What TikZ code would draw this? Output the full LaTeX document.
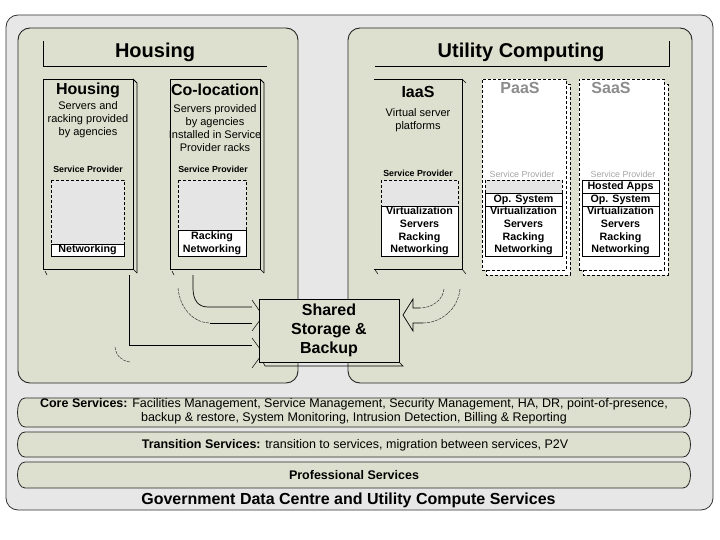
\documentclass[tikz,border=0pt]{standalone}
\usepackage{fontspec}
\setmainfont{Liberation Sans}
\usetikzlibrary{calc}
\definecolor{outerfill}{RGB}{231,231,231}
\definecolor{panelfill}{RGB}{221,224,206}
\definecolor{innergray}{RGB}{229,229,229}
\definecolor{dimtext}{RGB}{140,140,140}
\definecolor{lighttext}{RGB}{165,165,165}
\tikzset{
  outerbox/.style={draw=black!80, fill=outerfill, rounded corners=12pt, line width=0.8pt},
  panel/.style={draw=black!85, fill=panelfill, rounded corners=12pt, line width=0.9pt},
  bigtitle/.style={font=\fontsize{20}{24}\selectfont\bfseries, inner sep=0pt},
  subtitle/.style={font=\fontsize{16}{19}\selectfont\bfseries, inner sep=0pt},
  desc/.style={font=\fontsize{11}{13}\selectfont, align=center, inner sep=0pt},
  sptext/.style={font=\fontsize{8.8}{10}\selectfont\bfseries, inner sep=0pt},
  layertext/.style={font=\fontsize{10.7}{12.7}\selectfont\bfseries, align=center, inner sep=0pt},
  dashbox/.style={draw=black, dash pattern=on 3pt off 2pt, line width=0.6pt},
  solidbox/.style={draw=black, fill=white, line width=0.6pt},
  boxline/.style={draw=black, line width=0.8pt},
  arcline/.style={draw=black!80, line width=0.5pt, dash pattern=on 3pt off 1pt},
  bandtext/.style={font=\fontsize{12.5}{14}\selectfont, align=center, inner sep=0pt},
  band/.style={draw=black!85, fill=panelfill, line width=0.8pt}
}
\begin{document}
\begin{tikzpicture}[x=1pt,y=-1pt]
\useasboundingbox (0,0) rectangle (720,540);
\fill[white] (0,0) rectangle (720,540);

% outer frame and panels
\draw[outerbox] (6,15) rectangle (713,510);
\draw[panel] (18,28) rectangle (298,383);
\draw[panel] (348,28) rectangle (692,383);

% panel titles
\draw[line width=0.7pt] (43,41) -- (43,66) -- (267,66);
\draw[line width=0.7pt] (375,66) -- (669,66) -- (669,41);
\node[bigtitle] (tHousing) at (155,52) {Housing};
\node[bigtitle] (tUtility) at (521,52) {Utility Computing};

% ---------- Housing box ----------
\node[inner sep=0pt, outer sep=0pt, minimum width=90pt, minimum height=190pt, boxline] (hbox) at (88,174) {};
\draw[boxline] (hbox.north east) -- ++(4,4) -- ($(hbox.south east)+(4,4)$);
\draw[line width=0.6pt] (hbox.south east) -- ++(4,4);
\draw[line width=0.5pt] ($(hbox.south west)+(2,2)$) -- ++(2,4);
\node[subtitle] (hTitle) at (88,90) {Housing};
\node[desc] (hDesc) at (88,120) {Servers and\\racking provided\\by agencies};
\node[sptext] (hSP) at (88,169) {Service Provider};
\draw[dashbox, fill=innergray] (51,180) rectangle (124,256);
\node[solidbox, minimum width=73pt, minimum height=12pt, inner sep=0pt] (hNet) at (87.5,250) {};
\node[layertext] at (hNet.center) {Networking};

% ---------- Co-location box ----------
\node[inner sep=0pt, outer sep=0pt, minimum width=90pt, minimum height=190pt, boxline] (cbox) at (215,174) {};
\draw[boxline] (cbox.north east) -- ++(4,4) -- ($(cbox.south east)+(4,4)$);
\draw[line width=0.6pt] (cbox.south east) -- ++(4,4);
\draw[line width=0.5pt] ($(cbox.south west)+(2,2)$) -- ++(2,4);
\node[subtitle] (cTitle) at (215,90) {Co-location};
\node[desc] (cDesc) at (215,128.5) {Servers provided\\by agencies\\Installed in Service\\Provider racks};
\node[sptext] (cSP) at (213,169) {Service Provider};
\draw[dashbox, fill=innergray] (178,180) rectangle (246,256);
\node[solidbox, minimum width=68pt, minimum height=26pt, inner sep=0pt] (cNet) at (212,243) {};
\node[layertext] at (cNet.center) {Racking\\Networking};

% ---------- IaaS box (no left edge) ----------
\coordinate (iNW) at (374,79);
\coordinate (iNE) at (462,79);
\coordinate (iSE) at (462,269);
\coordinate (iSW) at (374,269);
\draw[boxline] (iNW) -- (iNE) -- (iSE) -- (iSW);
\draw[line width=0.5pt] (iNE) -- ++(4,4);
\draw[line width=0.5pt] (iSE) -- ++(4,5);
\draw[line width=0.5pt] ($(iSW)+(1,1)$) -- ++(3,4);
\node[subtitle] (iTitle) at (418,92) {IaaS};
\node[desc] (iDesc) at (418,120.5) {Virtual server\\platforms};
\node[sptext] (iSP) at (418,173) {Service Provider};
\draw[dashbox, fill=innergray] (381,180) rectangle (458,206);
\node[solidbox, minimum width=77pt, minimum height=50pt, inner sep=0pt] (iStack) at (419.5,231) {};
\node[layertext] at (iStack.center) {Virtualization\\Servers\\Racking\\Networking};

% ---------- PaaS box ----------
\draw[dashbox, fill=white] (486,84) rectangle (570,275);
\node[dashbox, fill=white, inner sep=0pt, outer sep=0pt, minimum width=84pt, minimum height=191pt] (pbox) at (524,174.5) {};
\node[subtitle, text=dimtext] (pTitle) at (520,88) {PaaS};
\node[sptext, text=lighttext, font=\fontsize{8.8}{10}\selectfont] (pSP) at (522,174) {Service Provider};
\draw[dashbox, fill=innergray] (485,180) rectangle (562,193);
\node[solidbox, minimum width=77pt, minimum height=13pt, inner sep=0pt] (pOS) at (523.5,199.5) {};
\node[layertext] at (pOS.center) {Op. System};
\node[solidbox, minimum width=77pt, minimum height=50pt, inner sep=0pt] (pStack) at (523.5,231) {};
\node[layertext] at (pStack.center) {Virtualization\\Servers\\Racking\\Networking};

% ---------- SaaS box ----------
\draw[dashbox, fill=white] (583,84) rectangle (668,275);
\node[dashbox, fill=white, inner sep=0pt, outer sep=0pt, minimum width=85pt, minimum height=191pt] (sbox) at (621.5,174.5) {};
\node[subtitle, text=dimtext] (sTitle) at (611,88) {SaaS};
\node[sptext, text=lighttext, font=\fontsize{8.8}{10}\selectfont] (sSP) at (623,174) {Service Provider};
\node[solidbox, minimum width=77pt, minimum height=13pt, inner sep=0pt] (sApps) at (620.5,186.5) {};
\node[layertext] at (sApps.center) {Hosted Apps};
\node[solidbox, minimum width=77pt, minimum height=13pt, inner sep=0pt] (sOS) at (620.5,199.5) {};
\node[layertext] at (sOS.center) {Op. System};
\node[solidbox, minimum width=77pt, minimum height=50pt, inner sep=0pt] (sStack) at (620.5,231) {};
\node[layertext] at (sStack.center) {Virtualization\\Servers\\Racking\\Networking};

% ---------- block arrows into shared storage ----------
% from Housing
\coordinate (aH1) at (129,275);
\coordinate (aH2) at (129,345);
\coordinate (aH3) at (252,345);
\draw[line width=0.7pt] (aH1) -- (aH2) -- (aH3);
\draw[arcline] (115,347) .. controls (116,356) and (122,361) .. (130,362);
\draw[line width=0.5pt] (252,338) -- (263,353) -- (252,368);
% from Co-location
\coordinate (aC1) at (193,275);
\coordinate (aC2) at (252,307);
\draw[line width=0.7pt] (aC1) -- (193,288) .. controls (193,300) and (198,307) .. (208,307) -- (aC2);
\draw[arcline] (178,288) .. controls (180,310) and (195,323) .. (210,323);
\draw[line width=0.7pt] (210,323) -- (252,323);
\draw[line width=0.5pt] (252,300) -- (263,316) -- (252,331);
% from IaaS
\coordinate (aI1) at (444,289);
\coordinate (aI2) at (460,289);
\draw[arcline] (aI1) .. controls (443,300) and (432,308) .. (420,308);
\draw[arcline] (aI2) .. controls (458,310) and (440,323) .. (423,323);
\draw[line width=0.7pt] (420,308) -- (413,308) -- (413,299) -- (403,315) -- (413,331) -- (413,323) -- (423,323);

% ---------- Shared storage ----------
\draw[line width=0.6pt] (263,362) -- (265,366) -- (403,366) -- (399,362);
\node[boxline, fill=panelfill, inner sep=0pt, outer sep=0pt, minimum width=140pt, minimum height=63pt] (shared) at (329,330.5) {};
\node[font=\fontsize{16}{19}\selectfont\bfseries, align=center, inner sep=0pt] (sharedText) at (shared.center) {Shared\\Storage \&\\Backup};

% ---------- service bands ----------
\draw[band] (25,398) -- (683,398) .. controls (693,398) and (693,427) .. (683,427) -- (25,427) .. controls (15,427) and (15,398) .. (25,398) -- cycle;
\draw[band] (25,432) -- (683,432) .. controls (693,432) and (693,457) .. (683,457) -- (25,457) .. controls (15,457) and (15,432) .. (25,432) -- cycle;
\draw[band] (25,462) -- (683,462) .. controls (693,462) and (693,488) .. (683,488) -- (25,488) .. controls (15,488) and (15,462) .. (25,462) -- cycle;
\node[bandtext] (core) at (354,411.5) {\textbf{Core Services:} Facilities Management, Service Management, Security Management, HA, DR, point-of-presence,\\backup \& restore, System Monitoring, Intrusion Detection, Billing \& Reporting};
\node[bandtext] (transition) at (355,445) {\textbf{Transition Services:} transition to services, migration between services, P2V};
\node[bandtext, font=\fontsize{12.5}{14}\selectfont\bfseries] (professional) at (354,475) {Professional Services};
\node[font=\fontsize{16}{19}\selectfont\bfseries, inner sep=0pt] (gov) at (348.5,500) {Government Data Centre and Utility Compute Services};
\end{tikzpicture}
\end{document}
